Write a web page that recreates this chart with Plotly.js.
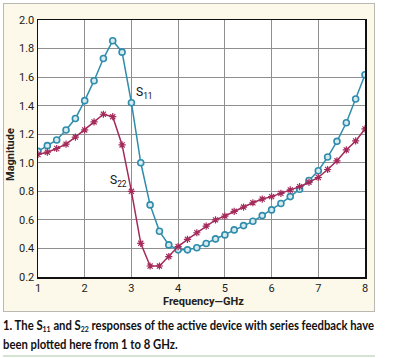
<!DOCTYPE html>
<html><head><meta charset="utf-8">
<script src="https://cdn.plot.ly/plotly-3.0.1.min.js"></script>
<style>
html,body{margin:0;padding:0;background:#fff;}
#wrap{position:relative;width:394px;height:358px;overflow:hidden;}
#bg{position:absolute;left:3px;top:3px;width:370px;height:307px;background:#fdf9ea;border:1px solid #b9b9b2;}
#chart{position:absolute;left:0;top:0;width:394px;height:358px;}
#caption{position:absolute;left:3px;top:316px;white-space:nowrap;font-family:Lato,"Open Sans",sans-serif;font-weight:bold;font-size:13px;line-height:19px;color:#111;transform-origin:0 0;}
#caption sub{font-size:8px;vertical-align:-2px;line-height:0;}
#rule{position:absolute;left:3px;top:355px;width:372px;height:2px;background:#d5e4d2;}
</style>
</head><body><div id="wrap"><div id="bg"></div><div id="chart"></div>
<div id="caption"><span>1. The S<sub>11</sub> and S<sub>22</sub> responses of the active device with series feedback have</span><br><span>been plotted here from 1 to 8 GHz.</span></div>
<div id="rule"></div></div>
<script>
const freq = [1.0,1.2,1.4,1.6,1.8,2.0,2.2,2.4,2.6,2.8,3.0,3.2,3.4,3.6,3.8,4.0,4.2,4.4,4.6,4.8,5.0,5.2,5.4,5.6,5.8,6.0,6.2,6.4,6.6,6.8,7.0,7.2,7.4,7.6,7.8,8.0];
const s11 = [1.08,1.12,1.16,1.23,1.31,1.435,1.575,1.73,1.855,1.775,1.42,1.0,0.705,0.52,0.425,0.39,0.39,0.405,0.435,0.467,0.495,0.53,0.56,0.59,0.63,0.67,0.715,0.763,0.815,0.876,0.944,1.04,1.15,1.28,1.447,1.617];
const s22 = [1.058,1.074,1.10,1.13,1.18,1.23,1.286,1.34,1.323,1.125,0.80,0.436,0.277,0.277,0.343,0.413,0.464,0.51,0.557,0.60,0.627,0.66,0.69,0.72,0.746,0.763,0.786,0.81,0.833,0.863,0.897,0.953,1.014,1.09,1.153,1.237];
const xTicks = [1,2,3,4,5,6,7,8];
const yTicks = [0.2,0.4,0.6,0.8,1.0,1.2,1.4,1.6,1.8,2.0];
const yTickText = ['0.2','0.4','0.6','0.8','1.0','1.2','1.4','1.6','1.8','2.0'];

const fam = 'Roboto, "Open Sans", sans-serif';
const traces = [
  {x: freq, y: s11, mode: 'lines+markers', name: 'S11',
   line: {color: '#2f8cab', width: 1.5},
   marker: {symbol: 'circle', size: 6, color: '#d6eaf0', line: {width: 1.6, color: '#2f8cab'}}},
  {x: freq, y: s22, mode: 'lines+markers', name: 'S22',
   line: {color: '#a32a5a', width: 1.5},
   marker: {symbol: 'asterisk-open', size: 6, color: '#a32a5a', line: {width: 1.2, color: '#a32a5a'}}}
];
const layout = {
  width: 394, height: 358,
  margin: {l: 38, r: 29, t: 20, b: 81},
  paper_bgcolor: 'rgba(0,0,0,0)', plot_bgcolor: '#ffffff',
  showlegend: false,
  font: {family: fam, color: '#222'},
  xaxis: {range: [1, 8], tickvals: xTicks, ticktext: xTicks.map(String), showgrid: true, gridcolor: '#8f8f8f', gridwidth: 1,
          zeroline: false, showline: true, linecolor: '#111', linewidth: 1.5, mirror: true, ticks: '',
          tickfont: {family: fam, size: 11, color: '#222'}},
  yaxis: {range: [0.2, 2.0], tickvals: yTicks, ticktext: yTickText, showgrid: true, gridcolor: '#8f8f8f', gridwidth: 1,
          zeroline: false, showline: true, linecolor: '#111', linewidth: 1.5, mirror: true, ticks: '',
          tickfont: {family: fam, size: 11, color: '#222'}},
  annotations: [
    {x: 3.05, y: 1.49, xref: 'x', yref: 'y', text: 'S<sub>11</sub>', showarrow: false, xanchor: 'left', yanchor: 'middle',
     font: {family: fam, size: 12, color: '#111'}},
    {x: 2.5, y: 0.87, xref: 'x', yref: 'y', text: 'S<sub>22</sub>', showarrow: false, xanchor: 'left', yanchor: 'middle',
     font: {family: fam, size: 12, color: '#111'}},
    {x: (203-38)/327, y: (277-301)/257, xref: 'paper', yref: 'paper', text: '<b>Frequency—GHz</b>', showarrow: false,
     xanchor: 'center', yanchor: 'middle', font: {family: fam, size: 11, color: '#222'}},
    {x: (10-38)/327, y: (277-155)/257, xref: 'paper', yref: 'paper', text: '<b>Magnitude</b>', showarrow: false, textangle: -90,
     xanchor: 'center', yanchor: 'middle', font: {family: fam, size: 11, color: '#222'}}
  ]
};
Plotly.newPlot('chart', traces, layout, {displayModeBar: false, staticPlot: true});
const cap = document.getElementById('caption');
const w = cap.firstElementChild.getBoundingClientRect().width;
cap.style.transform = 'scaleX(' + (371 / w) + ')';
</script></body></html>
